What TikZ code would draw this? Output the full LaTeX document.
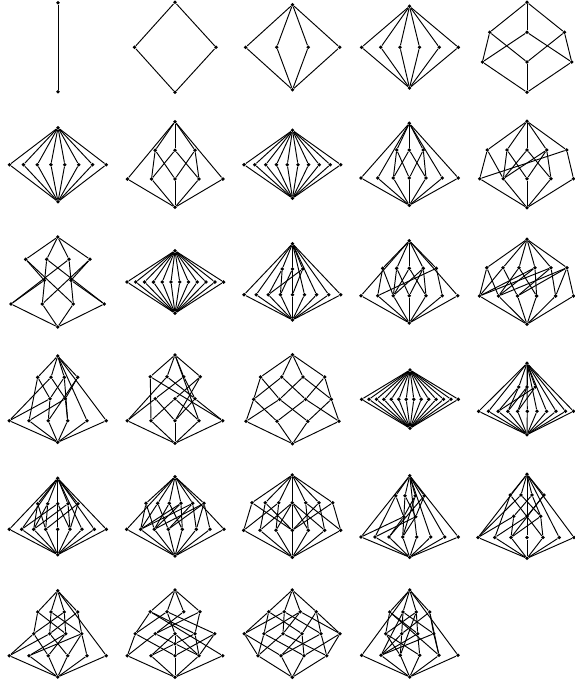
\documentclass[tikz,border=0pt]{standalone}
\tikzset{
  pt/.style={circle,fill=black,inner sep=0pt,minimum size=3.8pt},
  edge/.style={draw=black,line width=0.95pt}
}
\newcommand\lat[3]{\begin{scope}[name prefix=#1-]
  \foreach \n/\x/\y in {#2}{\node[pt] (\n) at (\x,\y) {};}
  \foreach \a/\b in {#3}{\draw[edge] (\a)--(\b);}
\end{scope}}
\begin{document}
\begin{tikzpicture}[x=1pt,y=-1pt]
\useasboundingbox (0,0) rectangle (574,683);
\lat{a}{t/58/2.7,b/58/91.7}{t/b}
\lat{c}{t/175/2.3,l/134.5/47.3,r/216/47.3,b/175/92.3}{t/l,t/r,l/b,r/b}
\lat{d}{t/292.5/4.7,b/292.5/89.7,1/245.6/47.3,2/276.7/47.3,3/308.2/47.3,4/339.7/47.3}{t/1,t/2,t/3,t/4,1/b,2/b,3/b,4/b}
\lat{e}{t/409.5/6.3,b/409.5/88,1/361.6/47.3,2/380.7/47.3,3/400/47.3,4/419.5/47.3,5/439.2/47.3,6/458.3/47.3}{t/1,t/2,t/3,t/4,t/5,t/6,1/b,2/b,3/b,4/b,5/b,6/b}
\lat{f}{t/527/2.3,u1/489.7/32.3,u2/527/32.3,u3/564.4/32.3,l1/482.4/62,l2/527/62,l3/571.7/62,b/527/92.3}{t/u1,t/u2,t/u3,u1/l1,u1/l2,u2/l1,u2/l3,u3/l2,u3/l3,l1/b,l2/b,l3/b}
% row 2
\lat{g}{t/58/127.7,b/58/201.7,1/9.5/164.7,2/23.4/164.7,3/37.3/164.7,4/50.9/164.7,5/64.8/164.7,6/78.7/164.7,7/92.6/164.7,8/106.2/164.7}{t/1,t/2,t/3,t/4,t/5,t/6,t/7,t/8,1/b,2/b,3/b,4/b,5/b,6/b,7/b,8/b}
\lat{h}{t/175/121.7,b/175/207.3,u1/155.2/150.3,u2/175/150.3,u3/195/150.3,l1/127.4/179,l2/151.5/179,l3/175/179,l4/199/179,l5/222.9/179}{t/u1,t/u2,t/u3,t/l1,t/l5,u1/l2,u1/l3,u2/l2,u2/l4,u3/l3,u3/l4,l1/b,l2/b,l3/b,l4/b,l5/b}
\lat{i}{t/292.5/130.3,b/292.5/198.3,1/244.1/164.7,2/254.8/164.7,3/265.7/164.7,4/276.4/164.7,5/287.3/164.7,6/298/164.7,7/308.6/164.7,8/319.2/164.7,9/330.2/164.7,10/340.8/164.7}{t/1,t/2,t/3,t/4,t/5,t/6,t/7,t/8,t/9,t/10,1/b,2/b,3/b,4/b,5/b,6/b,7/b,8/b,9/b,10/b}
\lat{j}{t/409.3/123.3,b/409.3/205.3,u1/396.7/150,u2/409.3/150,u3/423.3/150,l1/361/178,l2/377.7/178,l3/393.3/178,l4/409.3/178,l5/426/178,l6/442.3/178,l7/458.3/178}{t/u1,t/u2,t/u3,t/l1,t/l2,t/l6,t/l7,u1/l3,u1/l4,u2/l3,u2/l5,u3/l4,u3/l5,l1/b,l2/b,l3/b,l4/b,l5/b,l6/b,l7/b}
\lat{k}{t/527/121.3,b/527/207.7,u1/487.3/150,u2/507/150,u3/527/150,u4/546.7/150,u5/566.7/150,l1/479.7/178.7,l2/503.3/178.7,l3/527/178.7,l4/551/178.7,l5/573.5/178.7}{t/u1,t/u2,t/u3,t/u4,t/u5,u1/l1,u1/l2,u2/l2,u2/l3,u3/l2,u3/l4,u4/l3,u4/l4,u4/l2,u5/l1,u5/l5,l1/b,l2/b,l3/b,l4/b,l5/b}
% row 3
\lat{m}{t/57.7/237,b/57.7/327,u1/25.7/259.3,u2/46.7/259.3,u3/69/259.3,u4/90/259.3,m1/44.3/280.3,m2/71/280.3,l1/11/304,l2/42.3/304,l3/73.3/304,l4/104.3/304}{t/u1,t/u2,t/u3,t/u4,u1/m1,u1/l3,u4/m2,u4/l2,m1/l1,m2/l4,u2/l4,u3/l1,u2/l2,u3/l3,l1/b,l2/b,l3/b,l4/b}
\lat{n}{t/175/250.7,b/175/313.3,1/127/282,2/135.8/282,3/144.6/282,4/153.4/282,5/162.2/282,6/171/282,7/179.7/282,8/188.5/282,9/197.3/282,10/206/282,11/214.9/282,12/223.6/282}{t/1,t/2,t/3,t/4,t/5,t/6,t/7,t/8,t/9,t/10,t/11,t/12,1/b,2/b,3/b,4/b,5/b,6/b,7/b,8/b,9/b,10/b,11/b,12/b}
\lat{o}{t/292.5/243.7,b/292.5/320,u1/282.2/269,u2/292.5/269,u3/302.7/269,l1/244.1/294.7,l2/256.2/294.7,l3/268.3/294.7,l4/280.4/294.7,l5/292.5/294.7,l6/304.5/294.7,l7/316.6/294.7,l8/328.7/294.7,l9/340.8/294.7}{t/u1,t/u2,t/u3,t/l1,t/l2,t/l6,t/l7,t/l8,t/l9,u1/l3,u1/l4,u2/l4,u2/l5,u3/l3,u3/l5,l1/b,l2/b,l3/b,l4/b,l5/b,l6/b,l7/b,l8/b,l9/b}
\lat{p}{t/409.3/240.7,b/409.3/323,u1/382.7/268.3,u2/396.7/268.3,u3/409.3/268.3,u4/423.3/268.3,u5/436.3/268.3,l1/361/295.7,l2/377.7/295.7,l3/393.3/295.7,l4/409.3/295.7,l5/426/295.7,l6/442.3/295.7,l7/457.7/295.7}{t/u1,t/u2,t/u3,t/u4,t/u5,t/l1,t/l7,u1/l2,u1/l3,u2/l3,u2/l4,u3/l3,u3/l5,u4/l4,u4/l5,u4/l3,u5/l2,u5/l6,l1/b,l2/b,l3/b,l4/b,l5/b,l6/b,l7/b}
\lat{q}{t/527/239.3,b/527/324.3,u1/486.8/267.7,u2/503/267.7,u3/519/267.7,u4/535/267.7,u5/551/267.7,u6/567/267.7,l1/479.5/296,l2/498.5/296,l3/517.5/296,l4/536.6/296,l5/555.6/296,l6/573.5/296}{t/u1,t/u2,t/u3,t/u4,t/u5,t/u6,u1/l1,u1/l2,u2/l1,u2/l3,u3/l2,u3/l4,u4/l1,u4/l2,u4/l4,u5/l1,u5/l3,u5/l5,u6/l2,u6/l3,u6/l5,u6/l6,l1/b,l2/b,l3/b,l4/b,l5/b,l6/b}
% row 4
\lat{r}{t/57.7/356,b/57.7/442.3,u1/37.7/377.3,u2/51/377.3,u3/64.3/377.3,u4/77.7/377.3,m1/50/398.7,m2/65.3/398.7,l1/9.3/420.7,l2/29/420.7,l3/48.3/420.7,l4/67.7/420.7,l5/87/420.7,l6/106.3/420.7}{t/u1,t/u2,t/u3,t/u4,t/l5,t/l6,u1/l2,u1/m1,u2/l1,u2/m2,u3/m1,u3/l4,u4/l3,u4/m2,m1/l1,m1/l3,m2/l2,m2/l4,l1/b,l2/b,l3/b,l4/b,l5/b,l6/b}
\lat{s}{t/175/355,b/175/443.3,u1/150.3/376.7,u2/167/376.7,u3/183.7/376.7,u4/200.3/376.7,m1/155.3/398.7,m2/175/398.7,m3/195/398.7,l1/127.3/420.7,l2/151/420.7,l3/175/420.7,l4/199/420.7,l5/222.7/420.7}{t/u1,t/u2,t/u3,t/u4,t/l4,u1/l2,u1/l5,u2/l1,u2/m3,u3/m1,u3/m3,u4/m2,u4/l3,m1/l1,m1/l3,m2/l2,m2/l4,m3/l3,m3/l5,l1/b,l2/b,l3/b,l4/b,l5/b}
\lat{v}{t/292.5/354.7,b/292.5/443.7,u1/260.6/377,u2/281.8/377,u3/303/377,u4/324.7/377,m1/253.7/399.3,m2/279.6/399.3,m3/305.6/399.3,m4/331.3/399.3,l1/246/421.3,l2/277/421.3,l3/307.8/421.3,l4/339/421.3}{t/u1,t/u2,t/u3,t/u4,u1/m1,u1/m2,u2/m1,u2/m3,u3/m2,u3/m4,u4/m3,u4/m4,m1/l1,m1/l2,m2/l1,m2/l3,m3/l2,m3/l4,m4/l3,m4/l4,l1/b,l2/b,l3/b,l4/b}
\lat{w}{t/410/370,b/410/428.3,1/361.6/399.3,2/369/399.3,3/376.5/399.3,4/383.9/399.3,5/391.3/399.3,6/398.8/399.3,7/406.2/399.3,8/413.8/399.3,9/421.2/399.3,10/428.7/399.3,11/436.1/399.3,12/443.5/399.3,13/451/399.3,14/458.3/399.3}{t/1,t/2,t/3,t/4,t/5,t/6,t/7,t/8,t/9,t/10,t/11,t/12,t/13,t/14,1/b,2/b,3/b,4/b,5/b,6/b,7/b,8/b,9/b,10/b,11/b,12/b,13/b,14/b}
\lat{x}{t/527/363.3,b/527/434.7,u1/518.7/387,u2/527/387,u3/535.3/387,l1/478.7/411.3,l2/488.5/411.3,l3/498.2/411.3,l4/507.9/411.3,l5/517.6/411.3,l6/527.3/411.3,l7/537/411.3,l8/546.6/411.3,l9/556/411.3,l10/565.5/411.3,l11/573.5/411.3}{t/u1,t/u2,t/u3,t/l1,t/l2,t/l7,t/l8,t/l9,t/l10,t/l11,t/l6,u1/l3,u1/l4,u2/l4,u2/l5,u3/l3,u3/l5,l1/b,l2/b,l3/b,l4/b,l5/b,l6/b,l7/b,l8/b,l9/b,l10/b,l11/b}
% row 5
\lat{y}{t/57.7/478.3,b/57.7/554.7,u1/37.7/503.7,u2/47.7/503.7,u3/57.7/503.7,u4/68/503.7,u5/78/503.7,l1/9.3/529.3,l2/21.7/529.3,l3/33.7/529.3,l4/45.7/529.3,l5/57.7/529.3,l6/70/529.3,l7/82/529.3,l8/94.3/529.3,l9/106.3/529.3}{t/u1,t/u2,t/u3,t/u4,t/u5,t/l1,t/l2,t/l5,t/l7,t/l8,t/l9,u1/l3,u1/l4,u2/l3,u2/l4,u3/l2,u3/l6,u4/l3,u4/l6,u5/l4,u5/l6,l1/b,l2/b,l3/b,l4/b,l5/b,l6/b,l7/b,l8/b,l9/b}
\lat{z}{t/175/476.7,b/175/556,u1/146/503.3,u2/157.7/503.3,u3/169.3/503.3,u4/181/503.3,u5/192.7/503.3,u6/204/503.3,l1/126.7/529.3,l2/140.7/529.3,l3/154.3/529.3,l4/168.3/529.3,l5/182.3/529.3,l6/196.3/529.3,l7/210/529.3,l8/224/529.3}{t/u1,t/u2,t/u3,t/u4,t/u5,t/u6,t/l1,t/l8,u1/l2,u1/l3,u2/l2,u2/l4,u3/l3,u3/l5,u4/l2,u4/l3,u4/l5,u5/l2,u5/l4,u5/l6,u6/l3,u6/l4,u6/l6,u6/l7,l1/b,l2/b,l3/b,l4/b,l5/b,l6/b,l7/b,l8/b}
\lat{A}{t/292.3/475,b/292.3/557.3,u1/252/502.7,u2/265.3/502.7,u3/278.7/502.7,u4/292.3/502.7,u5/305.7/502.7,u6/319/502.7,u7/332.7/502.7,l1/243.7/530.3,l2/260/530.3,l3/276/530.3,l4/292.3/530.3,l5/308.3/530.3,l6/324.7/530.3,l7/340.7/530.3}{t/u1,t/u2,t/u3,t/u4,t/u5,t/u6,t/u7,u1/l1,u1/l4,u2/l2,u2/l4,u3/l1,u3/l3,u4/l2,u4/l3,u4/l4,u4/l5,u4/l6,u5/l5,u5/l7,u6/l4,u6/l6,u7/l4,u7/l7,l1/b,l2/b,l3/b,l4/b,l5/b,l6/b,l7/b}
\lat{B}{t/409.7/475.7,b/409.7/557.3,u1/395.7/495.7,u2/405/495.7,u3/415.3/495.7,u4/424.3/495.7,m1/403.7/516.7,m2/415.7/516.7,l1/361/537,l2/375/537,l3/389/537,l4/402.7/537,l5/416.7/537,l6/430.7/537,l7/444.7/537,l8/458.3/537}{t/u1,t/u2,t/u3,t/u4,t/l1,t/l5,t/l6,t/l7,t/l8,u1/l2,u1/m1,u2/l4,u2/m2,u3/m1,u3/l4,u4/l3,u4/m2,m1/l1,m1/l3,m2/l2,m2/l4,l1/b,l2/b,l3/b,l4/b,l5/b,l6/b,l7/b,l8/b}
\lat{C}{t/527/474.3,b/527/558.3,u1/510.3/495,u2/521/495,u3/532/495,u4/544/495,m1/513.7/516.3,m2/527/516.3,m3/540.7/516.3,l1/478/537.5,l2/494.8/537.5,l3/511/537.5,l4/527/537.5,l5/543/537.5,l6/559.2/537.5,l7/574/537.5}{t/u1,t/u2,t/u3,t/u4,t/l1,t/l4,t/l6,t/l7,u1/l2,u1/l5,u2/l1,u2/m3,u3/m1,u3/m3,u4/m2,u4/l3,m1/l1,m1/l3,m2/l2,m2/l4,m3/l3,m3/l5,l1/b,l2/b,l3/b,l4/b,l5/b,l6/b,l7/b}
% row 6
\lat{D}{t/57.7/590.7,b/57.7/677,u1/37.7/612,u2/51/612,u3/64.3/612,u4/77.7/612,m1/33.7/633.7,m2/49.7/633.7,m3/65.7/633.7,m4/81.7/633.7,l1/9.3/655.7,l2/29/655.7,l3/48.3/655.7,l4/67.7/655.7,l5/87/655.7,l6/106.3/655.7}{t/u1,t/u2,t/u3,t/u4,t/l6,u1/m1,u1/m3,u2/m2,u2/m4,u3/m1,u3/m3,u4/m2,u4/m4,m1/l1,m1/l3,m2/l1,m2/l4,m3/l2,m3/l3,m4/l2,m4/l4,m4/l5,l1/b,l2/b,l3/b,l4/b,l5/b,l6/b}
\lat{E}{t/175/590,b/175/677.3,u1/150.3/611.7,u2/167/611.7,u3/183.7/611.7,u4/200/611.7,m1/135.3/633.7,m2/155.3/633.7,m3/175/633.7,m4/195/633.7,m5/214.7/633.7,i/175/643.7,l1/127.3/655.7,l2/151/655.7,l3/175/655.7,l4/199/655.7,l5/222.7/655.7}{t/u1,t/u2,t/u3,t/u4,u1/m1,u1/m4,u1/l5,u2/m1,u2/m3,u2/m5,u3/m2,u4/m2,u4/m4,m1/l1,m1/l3,m2/l1,m2/i,m3/i,m3/l2,m3/l4,m4/i,m4/l4,m5/l3,m5/l4,i/l2,i/l4,i/l3,l1/b,l2/b,l3/b,l4/b,l5/b}
\lat{F}{t/292.3/590,b/292.3/677.3,u1/268.7/611.7,u2/284.3/611.7,u3/300.3/611.7,u4/316.3/611.7,m1/244.3/633.7,m2/264/633.7,m3/283/633.7,m4/302/633.7,m5/321/633.7,m6/340/633.7,l1/258/655.7,l2/281/655.7,l3/304/655.7,l4/326.7/655.7}{t/u1,t/u2,t/u3,t/u4,u1/m1,u1/m2,u1/m4,u2/m1,u2/m3,u2/m5,u3/m2,u3/m3,u3/m6,u4/m4,u4/m5,u4/m6,m1/l1,m1/l2,m2/l1,m2/l3,m3/l1,m3/l4,m4/l2,m4/l3,m5/l2,m5/l4,m6/l3,m6/l4,l1/b,l2/b,l3/b,l4/b}
\lat{G}{t/409.7/590,b/409.7/677,u1/389.7/612,u2/403/612,u3/416.3/612,u4/429.7/612,m1/385.7/633.7,m2/401.7/633.7,m3/417.7/633.7,m4/433.7/633.7,l1/361.7/655.3,l2/381/655.3,l3/400.3/655.3,l4/419.7/655.3,l5/439/655.3,l6/458/655.3}{t/u1,t/u2,t/u3,t/u4,t/l1,t/l6,u1/m1,u1/m3,u1/l5,u2/m2,u2/m4,u2/l2,u3/m1,u3/m3,u3/l3,u4/m2,u4/m4,u4/l5,m1/l3,m1/l4,m2/l2,m2/l3,m3/l2,m3/l4,m4/l2,m4/l5,l1/b,l2/b,l3/b,l4/b,l5/b,l6/b}
\end{tikzpicture}
\end{document}
